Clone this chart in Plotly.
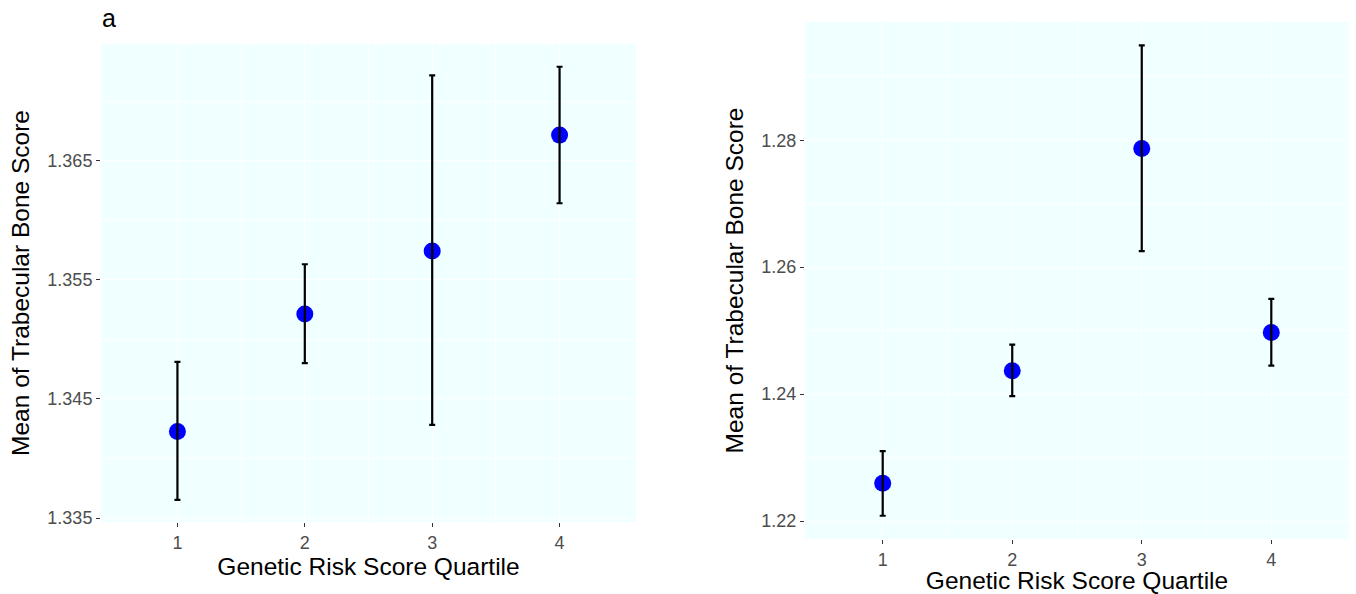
import plotly.graph_objects as go

quartiles = [1, 2, 3, 4]
tick_labels = ["1", "2", "3", "4"]

left_mean = [1.34226, 1.35213, 1.35743, 1.36715]
left_low = [1.33652, 1.34800, 1.34282, 1.36143]
left_high = [1.34812, 1.35631, 1.37217, 1.37289]

right_mean = [1.22594, 1.24367, 1.27869, 1.24970]
right_low = [1.22083, 1.23969, 1.26252, 1.24450]
right_high = [1.23103, 1.24781, 1.29496, 1.25500]

left_yticks = [1.335, 1.345, 1.355, 1.365]
left_yminor = [1.340, 1.350, 1.360, 1.370]
right_yticks = [1.22, 1.24, 1.26, 1.28]
right_yminor = [1.23, 1.25, 1.27, 1.29]
x_minor = [1.5, 2.5, 3.5]

FONT = "Liberation Sans, Arial, sans-serif"
BG = "#F0FFFF"

fig = go.Figure()


def add_panel(mean, low, high, xa, ya):
    plus = [h - m for h, m in zip(high, mean)]
    minus = [m - l for m, l in zip(mean, low)]
    fig.add_trace(go.Scatter(
        x=quartiles, y=mean, mode="markers", xaxis=xa, yaxis=ya,
        marker=dict(color="#0000FF", size=17, line=dict(width=0)),
        showlegend=False, hoverinfo="x+y"))
    fig.add_trace(go.Scatter(
        x=quartiles, y=mean, mode="markers", xaxis=xa, yaxis=ya,
        marker=dict(color="rgba(0,0,0,0)", size=1),
        error_y=dict(type="data", array=plus, arrayminus=minus,
                     color="black", thickness=2.2, width=3),
        showlegend=False, hoverinfo="skip"))


add_panel(left_mean, left_low, left_high, "x", "y")
add_panel(right_mean, right_low, right_high, "x2", "y2")

axis_common = dict(
    showline=False, zeroline=False, ticks="outside", ticklen=4,
    tickwidth=1.3, tickcolor="#333333", showgrid=True, gridcolor="white",
    gridwidth=1.2, tickfont=dict(family=FONT, size=18, color="#4D4D4D"),
    automargin=False,
)

xcommon = dict(axis_common, range=[0.4, 4.6], tickvals=quartiles,
               ticktext=tick_labels,
               minor=dict(tickvals=x_minor, showgrid=True, gridcolor="white",
                          gridwidth=0.6, ticks=""),
               title=dict(text="Genetic Risk Score Quartile",
                          font=dict(family=FONT, size=24.5, color="black"),
                          standoff=5))

ytitle = dict(text="Mean of Trabecular Bone Score",
              font=dict(family=FONT, size=24.5, color="black"), standoff=10)

fig.update_layout(
    width=1356, height=594,
    paper_bgcolor="white",
    margin=dict(l=0, r=0, t=0, b=0),
    xaxis=dict(xcommon, domain=[101 / 1356, 636 / 1356], anchor="y"),
    yaxis=dict(axis_common, domain=[1 - 522 / 594, 1 - 44 / 594], anchor="x",
               range=[1.33467, 1.3748], tickvals=left_yticks,
               ticktext=[f"{v:.3f}" for v in left_yticks],
               minor=dict(tickvals=left_yminor, showgrid=True,
                          gridcolor="white", gridwidth=0.6, ticks=""),
               title=ytitle),
    xaxis2=dict(xcommon, domain=[805 / 1356, 1349 / 1356], anchor="y2"),
    yaxis2=dict(axis_common, domain=[1 - 539 / 594, 1 - 22 / 594], anchor="x2",
                range=[1.21717, 1.29863], tickvals=right_yticks,
                ticktext=[f"{v:.2f}" for v in right_yticks],
                minor=dict(tickvals=right_yminor, showgrid=True,
                           gridcolor="white", gridwidth=0.6, ticks=""),
                title=ytitle),
    annotations=[
        dict(text="a", xref="paper", yref="paper", x=100 / 1356,
             y=1 - 18 / 594, xanchor="left", yanchor="middle",
             showarrow=False, font=dict(family=FONT, size=25, color="black")),
    ],
)

fig.update_layout(plot_bgcolor=BG)

fig.write_html(
    "out.html",
    config={"displayModeBar": False},
    post_script="document.body.style.margin='0';document.body.style.overflow='hidden';",
)
